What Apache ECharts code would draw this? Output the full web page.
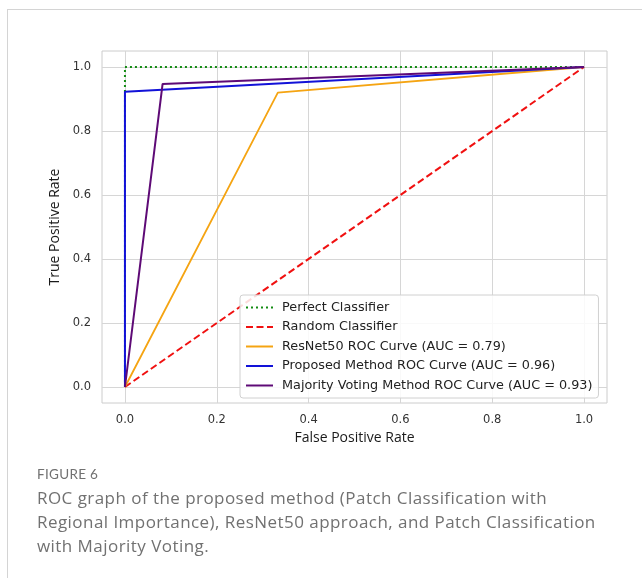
<!DOCTYPE html>
<html>
<head>
<meta charset="utf-8">
<script src="https://cdn.jsdelivr.net/npm/echarts@6/dist/echarts.min.js"></script>
<style>
  html, body { margin: 0; padding: 0; background: #fff; }
  #wrap { position: relative; width: 642px; height: 578px; overflow: hidden; }
  #frame { position: absolute; left: 7px; top: 9px; width: 700px; height: 700px; border: 1px solid #d4d4d4; }
  #chart { position: absolute; left: 0; top: 0; width: 642px; height: 578px; }
  .cap { position: absolute; left: 37px; color: #717171; }
  #figno { top: 466px; font-family: Lato, sans-serif; font-size: 13.5px; letter-spacing: 0.3px; }
  #captxt { top: 486px; font-family: "Open Sans", sans-serif; font-size: 17px; line-height: 24px; letter-spacing: 0.45px; width: 600px; white-space: nowrap; }
</style>
</head>
<body>
<div id="wrap">
  <div id="frame"></div>
  <div id="chart"></div>
  <div class="cap" id="figno">FIGURE 6</div>
  <div class="cap" id="captxt">ROC graph of the proposed method (Patch Classification with<br>Regional Importance), ResNet50 approach, and Patch Classification<br>with Majority Voting.</div>
</div>
<script>
// tick positions on both axes
const tickValues = [0, 0.2, 0.4, 0.6, 0.8, 1.0]

// ROC curves, [fpr, tpr] pairs
const perfectPts = [[0, 0], [0, 1], [1, 1]]
const randomPts = [[0, 0], [1, 1]]
const resnetPts = [[0, 0], [0.333, 0.92], [1, 1]]
const proposedPts = [[0, 0], [0, 0.923], [1, 1]]
const majorityPts = [[0, 0], [0.082, 0.947], [1, 1]]

const names = [
  'Perfect Classifier',
  'Random Classifier',
  'ResNet50 ROC Curve (AUC = 0.79)',
  'Proposed Method ROC Curve (AUC = 0.96)',
  'Majority Voting Method ROC Curve (AUC = 0.93)'
]

const chart = echarts.init(document.getElementById('chart'))

const axisBase = {
  type: 'value',
  min: -0.05,
  max: 1.05,
  nameLocation: 'middle',
  nameTextStyle: {
    fontFamily: 'Open Sans',
    fontSize: 14,
    color: '#1a1a1a'
  },
  axisLine: { show: false },
  axisTick: { show: false, customValues: tickValues },
  axisLabel: {
    customValues: tickValues,
    fontFamily: 'DejaVu Sans',
    fontSize: 11.5,
    color: '#333',
    margin: 11,
    formatter: v => v.toFixed(1)
  },
  splitLine: {
    show: true,
    lineStyle: { color: '#d6d6d6', width: 1 }
  }
}

function line(name, data, color, type, width) {
  return {
    name,
    type: 'line',
    data,
    symbol: 'none',
    showSymbol: false,
    lineStyle: { color, type, width },
    itemStyle: { color },
    emphasis: { disabled: true },
    silent: true
  }
}

chart.setOption({
  animation: false,
  grid: {
    left: 102,
    right: 35,
    top: 51,
    bottom: 175,
    show: true,
    borderColor: '#cccccc',
    borderWidth: 1
  },
  xAxis: {
    ...axisBase,
    name: 'False Positive Rate',
    nameGap: 24
  },
  yAxis: {
    ...axisBase,
    name: 'True Positive Rate',
    nameGap: 31
  },
  legend: {
    data: names,
    orient: 'vertical',
    left: 240,
    top: 295,
    padding: [6, 6, 6, 5],
    itemWidth: 27,
    itemHeight: 14,
    itemGap: 6.5,
    itemStyle: { opacity: 0 },
    backgroundColor: 'rgba(255,255,255,0.85)',
    borderColor: '#d0d0d0',
    borderWidth: 1,
    borderRadius: 3,
    textStyle: {
      fontFamily: 'DejaVu Sans',
      fontSize: 12.8,
      color: '#222',
      padding: [0, 0, 0, 4]
    }
  },
  series: [
    line(names[0], perfectPts, '#138c13', [2, 3], 2),
    line(names[1], randomPts, '#f01010', [7, 3.5], 2),
    line(names[2], resnetPts, '#f5a412', 'solid', 1.8),
    line(names[3], proposedPts, '#1212d8', 'solid', 2),
    line(names[4], majorityPts, '#5e0a76', 'solid', 2)
  ]
})
</script>
</body>
</html>
